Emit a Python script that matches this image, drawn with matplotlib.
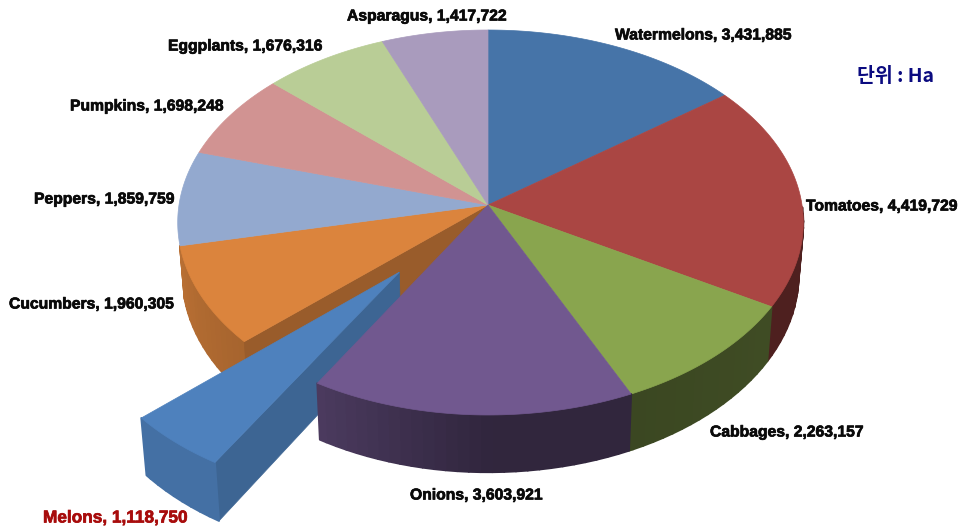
import numpy as np
import matplotlib
matplotlib.use("Agg")
import matplotlib.pyplot as plt
import matplotlib.patheffects as pe
from matplotlib.collections import PolyCollection

# Cultivated area per crop, clockwise from twelve o'clock
crops = ["Watermelons", "Tomatoes", "Cabbages", "Onions", "Melons",
         "Cucumbers", "Peppers", "Pumpkins", "Eggplants", "Asparagus"]
areas = [3431885, 4419729, 2263157, 3603921, 1118750,
         1960305, 1859759, 1698248, 1676316, 1417722]
unit_label = "단위 : Ha"

colors = ["#4674a8", "#aa4643", "#89a54e", "#71588f", "#4e81bd",
          "#db843d", "#93a9cf", "#d19392", "#b9cd96", "#a99bbd"]

# Left end and vertical centre of each label, in pixels
label_pos = [(615, 35), (806, 206), (710, 432), (410, 495), (43, 518),
             (9, 304), (34, 199), (70, 106), (168, 46), (347, 16)]

# Projection of the pie disc onto the canvas
CX, CY = 488.0, 205.0
RX_RIGHT, RX_LEFT, RY = 314.0, 309.0, 190.9
PERSP = 0.0909
THICK = 52.0
BOTTOM_SHRINK = 0.985
EXPLODE = 0.44


def project(u, v, drop=False):
    u, v = np.asarray(u, float), np.asarray(v, float)
    den = 1 + PERSP * v
    x = np.where(u < 0, RX_LEFT, RX_RIGHT) * u / den
    y = -RY * v / den
    if drop:
        x = x * BOTTOM_SHRINK
        y = y + THICK / den
    return np.column_stack([CX + x, CY + y])


def polar(deg):
    t = np.radians(deg)
    return np.sin(t), np.cos(t)


def wall_shade(deg):
    return np.interp(deg, [60, 100, 125, 155, 180, 210, 228, 258, 300],
                     [0.46, 0.46, 0.46, 0.43, 0.43, 0.66, 0.76, 0.84, 0.9])


def shaded(color, factor):
    rgb = np.array(matplotlib.colors.to_rgb(color))
    return tuple(np.clip(rgb * factor, 0, 1))


def polygon(ax, pts, color, z):
    ax.fill(pts[:, 0], pts[:, 1], facecolor=color, edgecolor=color,
            linewidth=0.5, zorder=z)


def draw_arc_wall(ax, a0, a1, color, z, off=(0.0, 0.0), shade=None):
    angles = np.arange(a0, a1 + 2.0, 2.0)
    angles[-1] = min(angles[-1], a1)
    verts, faces = [], []
    for s, e in zip(angles[:-1], angles[1:]):
        if e <= s:
            continue
        mid = (s + e) / 2
        u0, v0 = polar(s)
        u1, v1 = polar(e)
        if min(v0, v1) > -0.02:
            continue
        us = np.array([u0, u1]) + off[0]
        vs = np.array([v0, v1]) + off[1]
        top = project(us, vs)
        bot = project(us, vs, drop=True)
        verts.append(np.vstack([top, bot[::-1]]))
        f = wall_shade(mid) if shade is None else shade
        faces.append(shaded(color, f))
    if verts:
        # Each quad overlaps its neighbour so no seams show between them
        ax.add_collection(PolyCollection(verts, facecolors=faces, edgecolors=faces,
                                         linewidths=1.4, zorder=z))


def top_face(a0, a1, off=(0.0, 0.0)):
    angles = np.linspace(a0, a1, 80)
    u, v = polar(angles)
    us = np.r_[off[0], u + off[0]]
    vs = np.r_[off[1], v + off[1]]
    return project(us, vs)


def radial_face(deg, off=(0.0, 0.0)):
    u, v = polar(deg)
    us = np.array([off[0], u + off[0]])
    vs = np.array([off[1], v + off[1]])
    return np.vstack([project(us, vs), project(us, vs, drop=True)[::-1]])


fig = plt.figure(figsize=(9.62, 5.28), dpi=100, facecolor="white")
ax = fig.add_axes([0, 0, 1, 1])
ax.set_xlim(0, 962)
ax.set_ylim(528, 0)
ax.axis("off")

edges = np.r_[0, np.cumsum(areas)] / np.sum(areas) * 360.0
melon = crops.index("Melons")
onion = crops.index("Onions")
cucumber = crops.index("Cucumbers")

# Outer walls and top faces of the slices that stay in place
for i in range(cucumber + 1):
    if i in (melon, onion):
        continue
    draw_arc_wall(ax, edges[i], edges[i + 1], colors[i], 2 + 0.01 * i)
polygon(ax, radial_face(edges[cucumber]), shaded(colors[cucumber], 0.70), 3)
for i in range(len(crops)):
    if i in (melon, onion):
        continue
    polygon(ax, top_face(edges[i], edges[i + 1]), colors[i], 4)

# Pulled-out slice, pushed along its own bisector
mid = (edges[melon] + edges[melon + 1]) / 2
mu, mv = polar(mid)
off = (EXPLODE * mu, EXPLODE * mv)
polygon(ax, radial_face(edges[melon], off), shaded(colors[melon], 0.78), 5)
draw_arc_wall(ax, edges[melon], edges[melon + 1], colors[melon], 5, off, shade=0.87)
polygon(ax, top_face(edges[melon], edges[melon + 1], off), colors[melon], 6)

# The neighbouring slice sits in front of the pulled-out one
draw_arc_wall(ax, edges[onion], edges[onion + 1], colors[onion], 7)
polygon(ax, top_face(edges[onion], edges[onion + 1]), colors[onion], 8)

for name, value, (lx, ly) in zip(crops, areas, label_pos):
    highlighted = name == "Melons"
    color = "#a80c0c" if highlighted else "#0a0a0a"
    ax.text(lx, ly, f"{name}, {value:,}", ha="left", va="center",
            family="Liberation Sans", fontweight="bold",
            fontsize=12.4 if highlighted else 11.3,
            color=color, zorder=10,
            path_effects=[pe.withStroke(linewidth=0.5, foreground=color)])

ax.text(857, 76, unit_label, ha="left", va="center", fontsize=14, fontweight="bold",
        family=["Noto Sans CJK KR", "DejaVu Sans"], color="#0b0b80", zorder=10)

fig.savefig("out.png", dpi=100, facecolor="white")
